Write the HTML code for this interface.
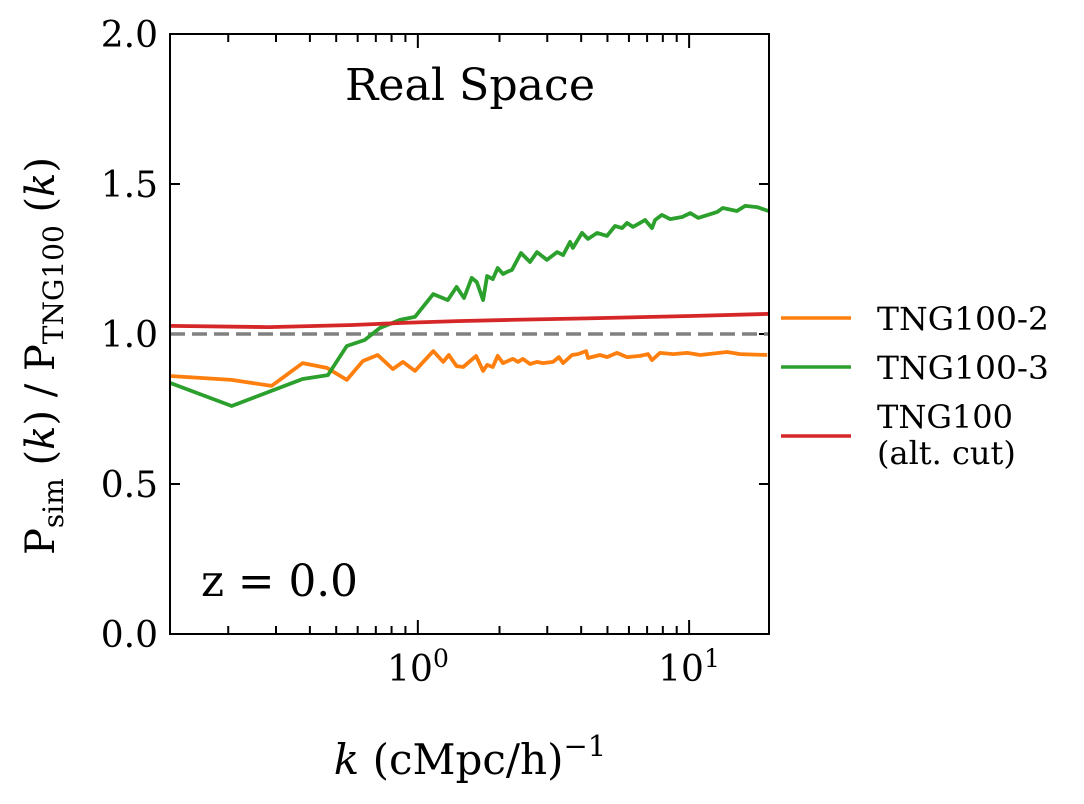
<!DOCTYPE html>
<html><head><meta charset="utf-8"><style>
html,body{margin:0;padding:0;background:#fff;}
svg{display:block;font-family:"DejaVu Serif","Liberation Serif",serif;}
</style></head><body>
<svg id="chart" width="1084" height="804" viewBox="0 0 1084 804" xmlns="http://www.w3.org/2000/svg">
<g id="ticks"></g>
<g id="series"></g>
<rect x="170" y="34" width="599" height="600" fill="none" stroke="#000" stroke-width="2"/>
<text x="470" y="100" font-size="44" text-anchor="middle" textLength="250" lengthAdjust="spacingAndGlyphs">Real Space</text>
<text x="201" y="596" font-size="44" textLength="157" lengthAdjust="spacingAndGlyphs">z = 0.0</text>
<g id="ylabels"></g>
<text x="418" y="681" font-size="36" text-anchor="middle">10<tspan dy="-14" font-size="25">0</tspan></text>
<text x="689" y="681" font-size="36" text-anchor="middle">10<tspan dy="-14" font-size="25">1</tspan></text>
<text x="470" y="774" font-size="42" text-anchor="middle"><tspan font-style="italic">k</tspan> (cMpc/h)<tspan dy="-18" font-size="29">−1</tspan></text>
<text transform="translate(54,356) rotate(-90)" font-size="40" text-anchor="middle">P<tspan dy="9" font-size="28">sim</tspan><tspan dy="-9"> (</tspan><tspan font-style="italic">k</tspan>) / P<tspan dy="9" font-size="28">TNG100</tspan><tspan dy="-9"> (</tspan><tspan font-style="italic">k</tspan>)</text>
<g>
<line x1="781" y1="318" x2="851" y2="318" stroke="#ff7f0e" stroke-width="3.5"/>
<text x="877" y="330" font-size="32" textLength="172" lengthAdjust="spacingAndGlyphs">TNG100-2</text>
<line x1="781" y1="367" x2="851" y2="367" stroke="#2ca02c" stroke-width="3.5"/>
<text x="877" y="379" font-size="32" textLength="172" lengthAdjust="spacingAndGlyphs">TNG100-3</text>
<line x1="781" y1="436" x2="851" y2="436" stroke="#d62728" stroke-width="3.5"/>
<text x="877" y="428" font-size="32">TNG100</text>
<text x="877" y="464" font-size="32">(alt. cut)</text>
</g>
</svg>
<script>
const greenK=[0.122,0.206,0.376,0.466,0.547,0.637,0.724,0.859,0.975,1.14,1.29,1.39,1.48,1.58,1.65,1.74,1.80,1.89,1.97,2.06,2.17,2.22,2.40,2.59,2.75,2.99,3.26,3.43,3.64,3.73,4.03,4.24,4.58,4.98,5.33,5.66,5.90,6.21,6.88,7.30,7.49,7.94,8.51,9.42,10.1,10.8,12.7,13.3,15.0,16.1,17.8,19.6];
const greenV=[0.837,0.76,0.85,0.863,0.96,0.98,1.02,1.047,1.057,1.133,1.113,1.157,1.12,1.187,1.173,1.113,1.193,1.183,1.22,1.20,1.21,1.213,1.27,1.24,1.273,1.247,1.273,1.263,1.307,1.287,1.337,1.317,1.337,1.327,1.36,1.353,1.37,1.357,1.38,1.353,1.38,1.397,1.383,1.39,1.403,1.387,1.407,1.42,1.41,1.427,1.423,1.41];
const orangeK=[0.122,0.206,0.289,0.376,0.462,0.547,0.627,0.711,0.809,0.881,0.975,1.14,1.24,1.30,1.39,1.47,1.64,1.74,1.80,1.89,1.97,2.06,2.24,2.34,2.44,2.59,2.75,2.89,3.15,3.31,3.43,3.70,3.89,4.17,4.24,4.69,4.98,5.42,5.90,6.59,7.06,7.30,7.81,8.73,9.83,11.0,13.8,15.4,19.4];
const orangeV=[0.86,0.847,0.827,0.903,0.887,0.847,0.91,0.93,0.883,0.907,0.877,0.943,0.907,0.93,0.893,0.89,0.927,0.877,0.897,0.89,0.927,0.903,0.917,0.907,0.917,0.90,0.907,0.903,0.907,0.923,0.903,0.93,0.933,0.943,0.92,0.93,0.923,0.937,0.923,0.927,0.933,0.913,0.937,0.933,0.937,0.93,0.94,0.933,0.93];
const redK=[0.122,0.284,0.575,0.881,1.39,2.18,4.2,10.1,19.7];
const redV=[1.027,1.023,1.03,1.037,1.043,1.047,1.052,1.06,1.067];
const yTicks=[0,0.5,1.0,1.5,2.0];
const yTickLabels=["0.0","0.5","1.0","1.5","2.0"];

const NS="http://www.w3.org/2000/svg";
const X0=170,X1=769,Y0=634,Y1=34,KMIN=0.122,KMAX=19.7,YMIN=0,YMAX=2;
const lmin=Math.log10(KMIN),lmax=Math.log10(KMAX);
function xs(k){return X0+(Math.log10(k)-lmin)/(lmax-lmin)*(X1-X0);}
function ys(v){return Y0-(v-YMIN)/(YMAX-YMIN)*(Y0-Y1);}
function mk(t,a,p){const e=document.createElementNS(NS,t);for(const n in a)e.setAttribute(n,a[n]);p.appendChild(e);return e;}
const sg=document.getElementById('series');
const ref=mk('line',{x1:X0,x2:X1,y1:ys(1),y2:ys(1),stroke:'#808080','stroke-width':3.5,'stroke-dasharray':'15,7'},sg);


function line(K,V,c,name){
  const d=K.map((k,i)=>(i?'L':'M')+xs(k).toFixed(1)+','+ys(V[i]).toFixed(1)).join(' ');
  const p=mk('path',{d:d,fill:'none',stroke:c,'stroke-width':3.8,'stroke-linejoin':'round'},sg);
  
  
}
line(orangeK,orangeV,'#ff7f0e','series-tng100-2');
line(greenK,greenV,'#2ca02c','series-tng100-3');
line(redK,redV,'#d62728','series-tng100-altcut');
const tg=document.getElementById('ticks');
for(let dec=-1;dec<=1;dec++){for(let m=1;m<10;m++){const k=m*Math.pow(10,dec);if(k<KMIN||k>KMAX)continue;const x=xs(k);const L=m===1?14:8;
  const t1=mk('line',{x1:x,x2:x,y1:Y0,y2:Y0-L,stroke:'#000','stroke-width':2},tg);
  
  
  const t2=mk('line',{x1:x,x2:x,y1:Y1,y2:Y1+L,stroke:'#000','stroke-width':2},tg);
  
  
}}
const yl=document.getElementById('ylabels');
yTicks.forEach((v,i)=>{const y=ys(v);
  const a=mk('line',{x1:X0,x2:X0+10,y1:y,y2:y,stroke:'#000','stroke-width':2},tg);
  
  
  const b=mk('line',{x1:X1,x2:X1-10,y1:y,y2:y,stroke:'#000','stroke-width':2},tg);
  
  
  const t=mk('text',{x:158,y:y+13,'font-size':36,'text-anchor':'end'},yl);
  t.textContent=yTickLabels[i];
  
  
});
</script>
</body></html>
